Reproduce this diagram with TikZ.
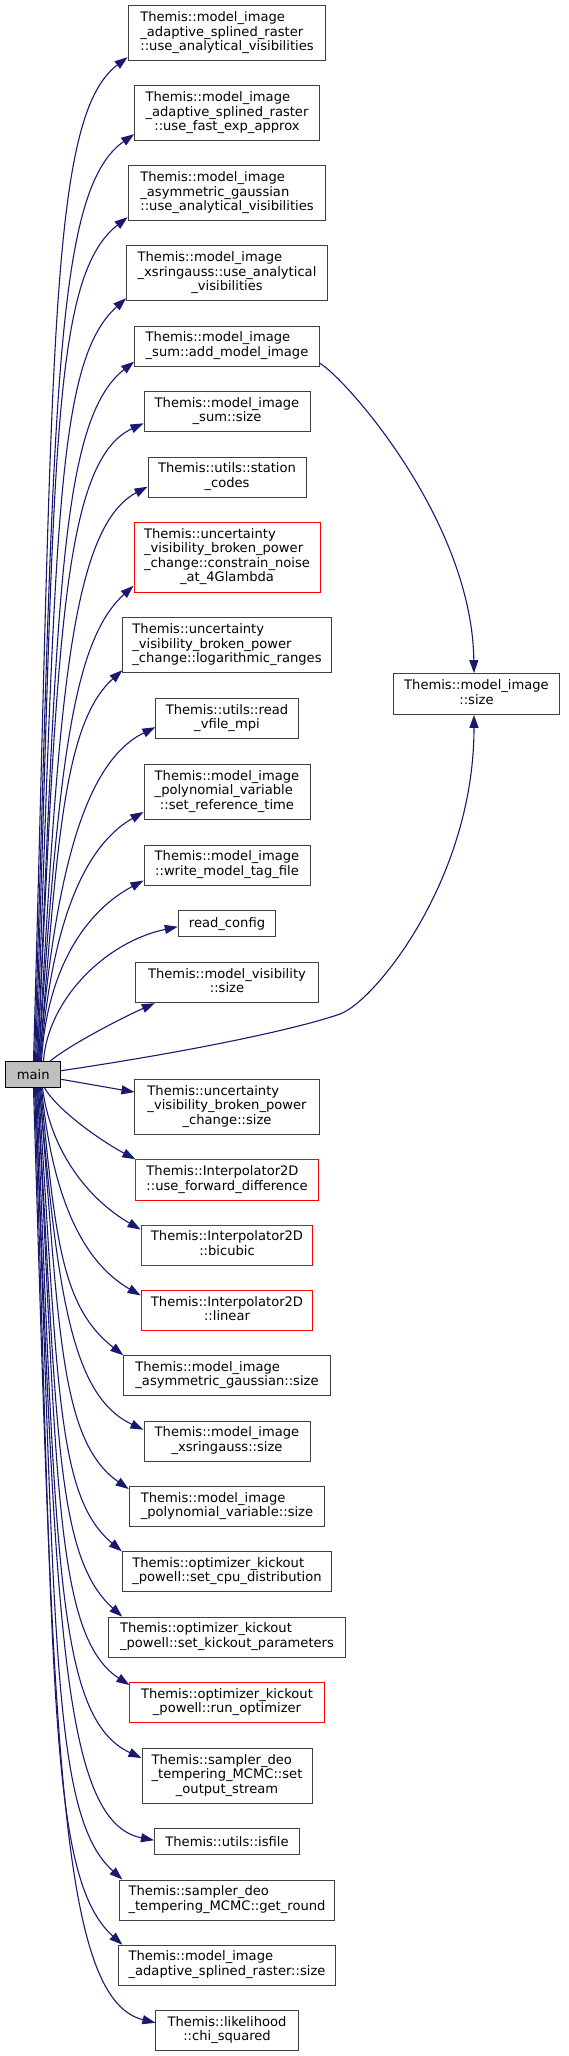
\documentclass[tikz,border=0pt]{standalone}
\usepackage{fontspec}
\setmainfont{DejaVu Sans}
\usetikzlibrary{arrows.meta,calc}
\definecolor{edgeblue}{HTML}{191970}
\definecolor{boxgray}{HTML}{404040}
\definecolor{mainfill}{HTML}{BFBFBF}
\definecolor{boxred}{HTML}{FF0000}
\newcommand\two[2]{\begin{tabular}{@{}l@{}}#1\\\multicolumn{1}{@{}c@{}}{#2}\end{tabular}}
\newcommand\cedge[7]{%
  \draw[edge] let \p1=($(main.#1 west)+(#2,0)$), \p2=($#3$) in
    (\p1) .. controls (\x1+#7pt,{\y1+#6*(\y2-\y1)}) and ($(\p2)+({-#5*cos(#4)},{#5*sin(#4)})$) .. (\p2);}
\begin{document}
\begin{tikzpicture}[x=1pt,y=-1pt,
  box/.style={draw=boxgray, fill=white, line width=1pt, inner sep=0pt, font=\fontsize{13.1}{14.5}\selectfont},
  redbox/.style={box, draw=boxred},
  edge/.style={draw=edgeblue, line width=1.1pt, -{Triangle[length=13pt,width=9pt]}}]
\useasboundingbox (0,0) rectangle (568,2056);
% upper column
\node[box, minimum width=197.8pt, minimum height=55pt] (a1) at (227,33.2) {\two{Themis::model\_image\\\_adaptive\_splined\_raster}{::use\_analytical\_visibilities}};
\node[box, minimum width=184.8pt, minimum height=55pt] (a2) at (227,113.2) {\two{Themis::model\_image\\\_adaptive\_splined\_raster}{::use\_fast\_exp\_approx}};
\node[box, minimum width=197.8pt, minimum height=55pt] (a3) at (227,193.2) {\two{Themis::model\_image\\\_asymmetric\_gaussian}{::use\_analytical\_visibilities}};
\node[box, minimum width=200.7pt, minimum height=55pt] (a4) at (227,273.2) {\two{Themis::model\_image\\\_xsringauss::use\_analytical}{\_visibilities}};
\node[box, minimum width=184.8pt, minimum height=40pt] (a5) at (227,346.2) {\two{Themis::model\_image}{\_sum::add\_model\_image}};
\node[box, minimum width=166pt, minimum height=40pt] (a6) at (227,411.8) {\two{Themis::model\_image}{\_sum::size}};
\node[box, minimum width=158pt, minimum height=40pt] (a7) at (227,477.2) {\two{Themis::utils::station}{\_codes}};
\node[redbox, minimum width=186pt, minimum height=70pt] (a8) at (227,557.3) {\two{Themis::uncertainty\\\_visibility\_broken\_power\\\_change::constrain\_noise}{\_at\_4Glambda}};
\node[box, minimum width=208.3pt, minimum height=55pt] (a9) at (227,645.2) {\two{Themis::uncertainty\\\_visibility\_broken\_power}{\_change::logarithmic\_ranges}};
\node[box, minimum width=142.2pt, minimum height=40pt] (a10) at (227,718.7) {\two{Themis::utils::read}{\_vfile\_mpi}};
\node[box, minimum width=166pt, minimum height=55pt] (a11) at (227,792) {\two{Themis::model\_image\\\_polynomial\_variable}{::set\_reference\_time}};
\node[box, minimum width=166pt, minimum height=40pt] (a12) at (227,865) {\two{Themis::model\_image}{::write\_model\_tag\_file}};
\node[box, minimum width=97.5pt, minimum height=26pt] (a13) at (227,923.7) {read\_config};
\node[box, minimum width=182.3pt, minimum height=40pt] (a14) at (227,982.7) {\two{Themis::model\_visibility}{::size}};
% main
\node[box, fill=mainfill, draw=black, minimum width=55pt, minimum height=25.6pt] (main) at (33.2,1074.5) {main};
% lower column
\node[box, minimum width=184.1pt, minimum height=55pt] (b1) at (227,1106.7) {\two{Themis::uncertainty\\\_visibility\_broken\_power}{\_change::size}};
\node[redbox, minimum width=182.3pt, minimum height=40.6pt] (b2) at (227,1180) {\two{Themis::Interpolator2D}{::use\_forward\_difference}};
\node[redbox, minimum width=171.8pt, minimum height=40.6pt] (b3) at (227,1245.3) {\two{Themis::Interpolator2D}{::bicubic}};
\node[redbox, minimum width=171.8pt, minimum height=40.6pt] (b4) at (227,1310.5) {\two{Themis::Interpolator2D}{::linear}};
\node[box, minimum width=206.5pt, minimum height=40pt] (b5) at (227,1375.7) {\two{Themis::model\_image}{\_asymmetric\_gaussian::size}};
\node[box, minimum width=166pt, minimum height=40pt] (b6) at (227,1441.2) {\two{Themis::model\_image}{\_xsringauss::size}};
\node[box, minimum width=195.7pt, minimum height=40pt] (b7) at (227,1506.5) {\two{Themis::model\_image}{\_polynomial\_variable::size}};
\node[box, minimum width=209.4pt, minimum height=40pt] (b8) at (227,1571.8) {\two{Themis::optimizer\_kickout}{\_powell::set\_cpu\_distribution}};
\node[box, minimum width=236.5pt, minimum height=40pt] (b9) at (227,1637.2) {\two{Themis::optimizer\_kickout}{\_powell::set\_kickout\_parameters}};
\node[redbox, minimum width=194.2pt, minimum height=40pt] (b10) at (227,1702.5) {\two{Themis::optimizer\_kickout}{\_powell::run\_optimizer}};
\node[box, minimum width=170pt, minimum height=55pt] (b11) at (227,1776) {\two{Themis::sampler\_deo\\\_tempering\_MCMC::set}{\_output\_stream}};
\node[box, minimum width=145.1pt, minimum height=26pt] (b12) at (227,1841.2) {Themis::utils::isfile};
\node[box, minimum width=215.5pt, minimum height=40pt] (b13) at (227,1900) {\two{Themis::sampler\_deo}{\_tempering\_MCMC::get\_round}};
\node[box, minimum width=217.7pt, minimum height=40pt] (b14) at (227,1965.2) {\two{Themis::model\_image}{\_adaptive\_splined\_raster::size}};
\node[box, minimum width=142.2pt, minimum height=40pt] (b15) at (227,2030.7) {\two{Themis::likelihood}{::chi\_squared}};
% right
\node[box, minimum width=166pt, minimum height=40.8pt] (rb) at (476.5,694) {\two{Themis::model\_image}{::size}};
% upward edges
\cedge{north}{28.3}{(a1.south west)+(0,-4)}{37}{100}{0.7}{20}
\cedge{north}{29.3}{(a2.south west)+(0,-7)}{35}{100}{0.7}{20}
\cedge{north}{30.3}{(a3.south west)+(0,-4)}{38}{100}{0.7}{20}
\cedge{north}{31.3}{(a4.south west)+(0,-3)}{42}{95}{0.7}{20}
\cedge{north}{32.3}{(a5.south west)+(0,-5)}{38}{95}{0.65}{20}
\cedge{north}{32.3}{(a6.south west)+(0,-9)}{25}{90}{0.65}{20}
\cedge{north}{33.3}{(a7.south west)+(0,-11)}{28}{90}{0.6}{20}
\cedge{north}{33.3}{(a8.south west)+(0,-7)}{42}{85}{0.6}{20}
\cedge{north}{34.3}{(a9.south west)+(0,-3)}{42}{80}{0.55}{18}
\cedge{north}{34.3}{(a10.south west)+(0,-12)}{26}{80}{0.55}{15}
\cedge{north}{35.3}{(a11.south west)+(0,-8)}{30}{75}{0.5}{10}
\cedge{north}{36.3}{(a12.south west)+(0,-5)}{28}{67}{0.5}{5}
\cedge{north}{38.3}{(a13.west)+(0,3)}{12}{75}{0.45}{4}
\cedge{north}{44.8}{(a14.south west)+(19.5,0)}{24}{37}{0.28}{19.5}
% downward edges
\cedge{south}{39.3}{(b2.north west)}{-28}{40}{0.3}{12}
\cedge{south}{37.3}{(b3.north west)+(0,5)}{-30}{60}{0.45}{8}
\cedge{south}{36.3}{(b4.north west)+(0,5.7)}{-30}{70}{0.5}{10}
\cedge{south}{35.3}{(b5.north west)}{-38}{80}{0.55}{15}
\cedge{south}{34.3}{(b6.north west)+(0,9)}{-25}{80}{0.6}{18}
\cedge{south}{34.3}{(b7.north west)+(0,3)}{-35}{85}{0.6}{20}
\cedge{south}{33.3}{(b8.north west)}{-40}{85}{0.65}{20}
\cedge{south}{32.3}{(b9.north west)+(14,0)}{-42}{90}{0.65}{20}
\cedge{south}{32.3}{(b10.north west)+(0,3)}{-33}{90}{0.65}{20}
\cedge{south}{31.3}{(b11.north west)+(0,10)}{-25}{95}{0.7}{20}
\cedge{south}{30.3}{(b12.west)+(0,-1)}{-11}{95}{0.7}{20}
\cedge{south}{30.3}{(b13.north west)+(3.6,0)}{-42}{95}{0.7}{20}
\cedge{south}{29.3}{(b14.north west)+(4.7,0)}{-42}{100}{0.7}{20}
\cedge{south}{28.3}{(b15.north west)+(0,12.6)}{-14}{100}{0.7}{20}
% straight and right-hand edges
\draw[edge] ($(main.east)+(0,4.8)$) -- ($(b1.north west)+(0,13.4)$);
\draw[edge] ($(main.east)+(0,-3.8)$) .. controls (200,1050) and (300,1028) .. (340,1014) .. controls (374,1002) and (474,880) .. ($(rb.south)+(-2.5,0)$);
\draw[edge] ($(a5.east)+(0,17.1)$) .. controls (345,378) and (472,520) .. ($(rb.north)+(-2.5,0)$);
\end{tikzpicture}
\end{document}
